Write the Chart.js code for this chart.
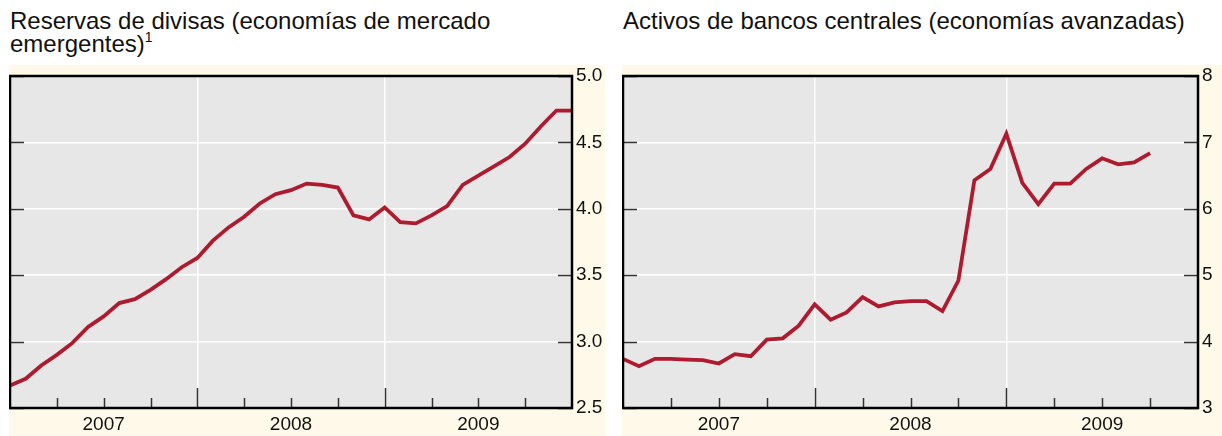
<!DOCTYPE html>
<html>
<head>
<meta charset="utf-8">
<script src="https://cdn.jsdelivr.net/npm/chart.js@4/dist/chart.umd.min.js"></script>
<style>
  html, body { margin: 0; padding: 0; background: #ffffff; }
  body { width: 1222px; height: 436px; position: relative; overflow: hidden;
         font-family: "Liberation Sans", Arial, sans-serif; color: #111; }
  .title { position: absolute; top: 9px; font-size: 24px; line-height: 23px; white-space: nowrap; }
  .title sup { font-size: 14px; line-height: 0; vertical-align: 10px; }
  canvas { position: absolute; background: #FEF9E8; }
</style>
</head>
<body>
<div class="title" style="left:10px;">Reservas de divisas (economías de mercado<br>emergentes)<sup>1</sup></div>
<div class="title" style="left:623px;">Activos de bancos centrales (economías avanzadas)</div>
<canvas id="c1" width="596" height="371" style="left:9px; top:65px;"></canvas>
<canvas id="c2" width="600" height="371" style="left:622px; top:65px;"></canvas>
<script>
// Monthly categories, Jan 2007 .. Jan 2010
const months = [];
for (let y = 2007; y <= 2010; y++) {
  for (let m = 1; m <= 12; m++) {
    if (y === 2010 && m > 1) break;
    months.push(y + '-' + String(m).padStart(2, '0'));
  }
}
// Foreign exchange reserves, emerging market economies (trillions USD)
const reservas = [2.67, 2.72, 2.82, 2.90, 2.99, 3.11, 3.19, 3.29, 3.32, 3.39, 3.47, 3.56,
                  3.63, 3.76, 3.86, 3.94, 4.04, 4.11, 4.14, 4.19, 4.18, 4.16, 3.95, 3.92,
                  4.01, 3.90, 3.89, 3.95, 4.02, 4.18, 4.25, 4.32, 4.39, 4.49, 4.62, 4.74,
                  4.74];
// Central bank assets, advanced economies (trillions USD)
const activos = [3.74, 3.63, 3.74, 3.74, 3.73, 3.72, 3.67, 3.81, 3.78, 4.03, 4.05, 4.24,
                 4.56, 4.33, 4.44, 4.67, 4.53, 4.59, 4.61, 4.61, 4.46, 4.92, 6.43, 6.60,
                 7.13, 6.39, 6.07, 6.38, 6.38, 6.60, 6.76, 6.67, 6.70, 6.84];
const yTicksLeft = [2.5, 3.0, 3.5, 4.0, 4.5, 5.0];
const yTicksRight = [3, 4, 5, 6, 7, 8];

const FONT = '"Liberation Sans", Arial, sans-serif';
const LINE = '#AE1A2E';

const framePlugin = {
  id: 'frame',
  beforeDraw(chart) {
    const a = chart.chartArea, c = chart.ctx;
    c.save();
    c.fillStyle = '#E7E7E7';
    c.fillRect(a.left, a.top, a.right - a.left, a.bottom - a.top);
    c.restore();
  },
  beforeDatasetsDraw(chart) {
    const a = chart.chartArea, c = chart.ctx;
    const xs = chart.scales.x, ys = chart.scales.y;
    c.save();
    c.strokeStyle = '#333';
    c.lineWidth = 1.5;
    ys.ticks.forEach(t => {
      const y = Math.round(ys.getPixelForValue(t.value)) + 0.5;
      c.beginPath();
      c.moveTo(a.left, y); c.lineTo(a.left + 14, y);
      c.moveTo(a.right, y); c.lineTo(a.right - 14, y);
      c.stroke();
    });
    months.forEach((m, i) => {
      const mm = m.slice(5);
      if (i === 0 || i === months.length - 1) return;
      if (mm === '04' || mm === '07' || mm === '10' || mm === '01') {
        const x = Math.round(xs.getPixelForValue(i)) + 0.5;
        const len = mm === '01' ? 20 : 10;
        c.beginPath();
        c.moveTo(x, a.bottom); c.lineTo(x, a.bottom - len);
        c.stroke();
      }
    });
    c.restore();
  },
  afterDatasetsDraw(chart) {
    const a = chart.chartArea, c = chart.ctx;
    c.save();
    c.strokeStyle = '#000';
    c.lineWidth = 2.5;
    c.strokeRect(a.left, a.top, a.right - a.left, a.bottom - a.top);
    c.restore();
  }
};

function makeChart(id, data, yMin, yMax, yTicks, fmt, yWidth) {
  return new Chart(document.getElementById(id), {
    type: 'line',
    data: {
      labels: months,
      datasets: [{ data: data, borderColor: LINE, borderWidth: 3.8, pointRadius: 0,
                   tension: 0, fill: false, borderJoinStyle: 'miter' }]
    },
    options: {
      responsive: false, animation: false, devicePixelRatio: 1,
      layout: { padding: { left: 1, top: 11, right: 0, bottom: 0 } },
      plugins: { legend: { display: false }, tooltip: { enabled: false } },
      scales: {
        x: {
          type: 'category', offset: false,
          grid: { drawTicks: false, lineWidth: 1.5,
                  color: ctx => (ctx.index === 12 || ctx.index === 24) ? '#ffffff' : 'rgba(0,0,0,0)' },
          border: { display: false },
          ticks: { autoSkip: false, maxRotation: 0, minRotation: 0, padding: 5,
                   color: '#111', font: { family: FONT, size: 19 },
                   callback: (v, i) => months[i].endsWith('-07') ? months[i].slice(0, 4) : '' },
          afterFit: s => { s.height = 28; s.paddingLeft = 0; s.paddingRight = 0; }
        },
        y: {
          position: 'right', min: yMin, max: yMax,
          afterBuildTicks: s => { s.ticks = yTicks.map(v => ({ value: v })); },
          grid: { drawTicks: false, lineWidth: 1.5, color: '#ffffff' },
          border: { display: false },
          ticks: { padding: 4, color: '#111', font: { family: FONT, size: 19 },
                   callback: v => fmt(v) },
          afterFit: s => { s.width = yWidth; s.paddingTop = 0; s.paddingBottom = 0; }
        }
      }
    },
    plugins: [framePlugin]
  });
}

makeChart('c1', reservas, 2.5, 5.0, yTicksLeft, v => v.toFixed(1), 33);
makeChart('c2', activos, 3, 8, yTicksRight, v => String(v), 24);
</script>
</body>
</html>
